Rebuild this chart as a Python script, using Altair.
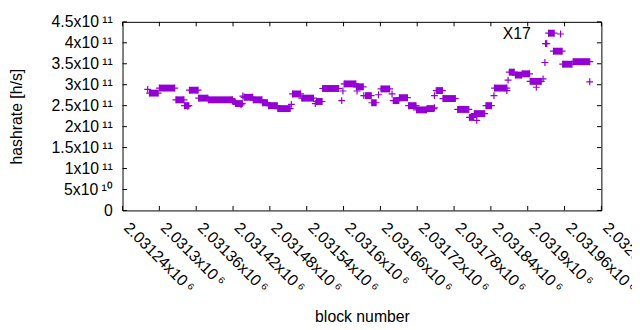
import altair as alt
import pandas as pd

PURPLE = "#9400d3"
FONT = "Liberation Sans"
PLUS = "M-1,0L1,0M0,-1L0,1"

# runs of consecutive blocks with (nearly) the same estimate
run_start = [2031284, 2031300, 2031327, 2031341, 2031349, 2031364, 2031380, 2031420, 2031424, 2031438,
             2031453, 2031468, 2031478, 2031493, 2031517, 2031532, 2031556, 2031566, 2031601, 2031621,
             2031636, 2031646, 2031661, 2031681, 2031691, 2031706, 2031719, 2031736, 2031751, 2031762,
             2031786, 2031805, 2031813, 2031832, 2031846, 2031870, 2031880, 2031891, 2031904, 2031929,
             2031934, 2031942, 2031957, 2031974]
run_end = [2031298, 2031325, 2031340, 2031348, 2031363, 2031379, 2031419, 2031423, 2031435, 2031452,
           2031467, 2031476, 2031492, 2031513, 2031530, 2031551, 2031565, 2031592, 2031620, 2031632,
           2031645, 2031653, 2031675, 2031690, 2031704, 2031718, 2031735, 2031747, 2031761, 2031782,
           2031804, 2031812, 2031830, 2031841, 2031866, 2031878, 2031890, 2031903, 2031922, 2031931,
           2031943, 2031956, 2031972, 2032001]
run_value = [2.80, 2.92, 2.64, 2.50, 2.87, 2.68, 2.64, 2.60, 2.55, 2.70,
             2.64, 2.57, 2.50, 2.43, 2.78, 2.68, 2.60, 2.91, 3.02, 2.95,
             2.74, 2.57, 2.90, 2.62, 2.69, 2.50, 2.40, 2.43, 2.86, 2.67,
             2.41, 2.22, 2.31, 2.50, 2.92, 3.30, 3.23, 3.26, 3.08, 3.98,
             4.23, 3.80, 3.49, 3.55]  # x 1e11 h/s

# isolated points
pt_block = [2031281, 2031346, 2031433, 2031436, 2031515, 2031554, 2031597, 2031599, 2031622, 2031633,
            2031657, 2031679, 2031748, 2031748, 2031817, 2031845, 2031866, 2031868, 2031914, 2031925,
            2031928, 2032001]
pt_value = [2.89, 2.49, 2.52, 2.73, 2.53, 2.55, 2.62, 2.85, 2.85, 2.74,
            2.76, 2.78, 2.45, 2.74, 2.15, 2.74, 2.86, 3.11, 2.94, 3.14,
            3.53, 3.07]  # x 1e11 h/s

x_ticks = [2031240, 2031300, 2031360, 2031420, 2031480, 2031540, 2031600,
           2031660, 2031720, 2031780, 2031840, 2031900, 2031960, 2032020]
y_ticks = [0, 5e10, 1e11, 1.5e11, 2e11, 2.5e11, 3e11, 3.5e11, 4e11, 4.5e11]

series_name = ["X17"]

W, H = 485, 191
TL = 4.5

runs_df = pd.DataFrame({"start": run_start, "end": run_end,
                        "v": [v * 1e11 for v in run_value]})
pts_df = pd.DataFrame({
    "b": pt_block + run_start + run_end,
    "v": [v * 1e11 for v in pt_value] + [v * 1e11 for v in run_value] * 2,
})
xt_df = pd.DataFrame({"t": x_ticks})
yt_df = pd.DataFrame({"t": y_ticks})

x_scale = alt.Scale(domain=[2031240, 2032020], nice=False, zero=False)
y_scale = alt.Scale(domain=[0, 4.5e11], nice=False, zero=False)

x_axis = alt.Axis(
    values=x_ticks,
    labelExpr="format(datum.value/1e6, '.6~f') + 'x10\u2009\u2076'",
    labelAngle=45, labelAlign="left", labelBaseline="alphabetic",
    labelPadding=18, ticks=False, tickSize=0, domain=False, grid=False,
    labelOverlap=False, labelFlush=False, labelBound=False,
    title="block number", titleX=W / 2, titleY=112,
    titleAlign="center", titleBaseline="alphabetic",
)
y_axis = alt.Axis(
    values=y_ticks,
    labelExpr="datum.value == 0 ? '0' : (datum.value < 1e11 ? format(datum.value/1e10, '~g') + 'x10\u2009\u00b9\u2070' : format(datum.value/1e11, '~g') + 'x10\u2009\u00b9\u00b9')",
    labelPadding=10.5, labelBaseline="middle", ticks=False, tickSize=0,
    domain=False, grid=False, labelOverlap=False, labelFlush=False,
    title="hashrate [h/s]", titleAngle=270, titleX=-107, titleY=H / 2,
    titleAlign="center", titleBaseline="middle",
)

runs = alt.Chart(runs_df).mark_rule(color=PURPLE, strokeWidth=7, strokeCap="butt").encode(
    x=alt.X("start:Q", scale=x_scale, axis=x_axis),
    x2="end:Q",
    y=alt.Y("v:Q", scale=y_scale, axis=y_axis),
)
points = alt.Chart(pts_df).mark_point(shape=PLUS, filled=False, color=PURPLE,
                                      strokeWidth=1.2, size=49, opacity=1).encode(
    x=alt.X("b:Q", scale=x_scale, axis=x_axis),
    y=alt.Y("v:Q", scale=y_scale, axis=y_axis),
)

tick_bottom = alt.Chart(xt_df).mark_rule(color="black", strokeWidth=1).encode(
    x=alt.X("t:Q", scale=x_scale, axis=x_axis), y=alt.value(H), y2=alt.value(H - TL))
tick_top = alt.Chart(xt_df).mark_rule(color="black", strokeWidth=1).encode(
    x=alt.X("t:Q", scale=x_scale, axis=x_axis), y=alt.value(0), y2=alt.value(TL))
tick_left = alt.Chart(yt_df).mark_rule(color="black", strokeWidth=1).encode(
    y=alt.Y("t:Q", scale=y_scale, axis=y_axis), x=alt.value(0), x2=alt.value(TL))
tick_right = alt.Chart(yt_df).mark_rule(color="black", strokeWidth=1).encode(
    y=alt.Y("t:Q", scale=y_scale, axis=y_axis), x=alt.value(W), x2=alt.value(W - TL))

legend_text = alt.Chart(pd.DataFrame({"name": series_name})).mark_text(
    align="right", baseline="middle", font=FONT, fontSize=16, color="black").encode(
    text="name:N", x=alt.value(413.5), y=alt.value(12.5))
legend_key = alt.Chart(pd.DataFrame({"name": series_name})).mark_point(
    shape=PLUS, filled=False, color=PURPLE, strokeWidth=1.2, size=49, opacity=1).encode(
    x=alt.value(443.7), y=alt.value(12.3))

chart = alt.layer(
    tick_bottom, tick_top, tick_left, tick_right, runs, points, legend_text, legend_key
).properties(
    width=W, height=H,
    autosize=alt.AutoSizeParams(type="none"),
    padding={"left": 116, "top": 12, "right": 31, "bottom": 115},
    background="white",
).configure_view(
    stroke="black", strokeWidth=1,
).configure_axis(
    labelFont=FONT, titleFont=FONT, labelFontSize=16, titleFontSize=16,
    labelColor="black", titleColor="black", titleFontWeight="normal",
)

chart.save("out.html", embed_options={"renderer": "svg", "actions": False})
